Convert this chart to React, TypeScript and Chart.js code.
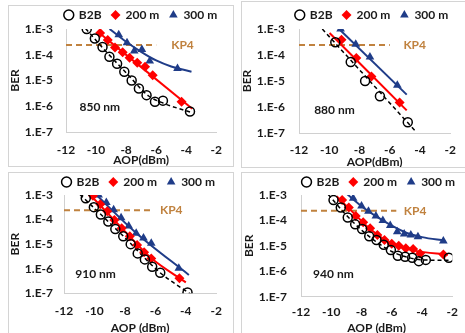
import React, { useEffect, useRef } from 'react';
import { Chart, registerables } from 'chart.js';

Chart.register(...registerables);

// ---------- shared axis values ----------
const yTickValues = [1e-7, 1e-6, 1e-5, 1e-4, 1e-3];
const yTickLabels = ['1.E-7', '1.E-6', '1.E-5', '1.E-4', '1.E-3'];
const xMin = -12;
const xMax = -2;
const xStep = 2;
const seriesLabels = ['B2B', '200 m', '300 m'];
const kp4Ber = 2.4e-4;

// ---------- 850 nm ----------
const aop850B2B = [-10.62, -10.08, -9.57, -9.11, -8.6, -8.12, -7.63, -7.15, -6.64, -6.08, -5.55, -3.75];
const ber850B2B = [1e-3, 4.3e-4, 2.0e-4, 8.4e-5, 4.5e-5, 2.2e-5, 1.0e-5, 4.9e-6, 2.7e-6, 1.5e-6, 1.65e-6, 6.3e-7];
const aop850M200 = [-9.73, -9.22, -8.74, -8.23, -7.77, -7.26, -6.74, -6.23, -4.31];
const ber850M200 = [7e-4, 3.7e-4, 1.9e-4, 1.26e-4, 7.6e-5, 4.9e-5, 3.4e-5, 1.6e-5, 1.5e-6];
const aop850M300 = [-8.49, -7.94, -7.46, -6.95, -6.43, -4.58];
const ber850M300 = [6e-4, 2.9e-4, 1.4e-4, 1.6e-4, 5.7e-5, 2.9e-5];
const fitAop850B2B = [-10.7, -9.5, -8, -6.5, -5.5, -3.6];
const fitBer850B2B = [1.05e-3, 1.7e-4, 2e-5, 2.5e-6, 1.3e-6, 5.6e-7];
const fitAop850M200 = [-9.9, -3.6];
const fitBer850M200 = [8e-4, 8e-7];
const fitAop850M300 = [-9.1, -8, -7, -6, -5, -3.65];
const fitBer850M300 = [1e-3, 3.2e-4, 1.3e-4, 6e-5, 3.5e-5, 2.2e-5];

// ---------- 880 nm ----------
const aop880B2B = [-9.6, -8.58, -7.63, -6.65, -4.81];
const ber880B2B = [3.1e-4, 5.4e-5, 1.0e-5, 2.6e-6, 2.6e-7];
const aop880M200 = [-9.19, -8.21, -7.21, -5.35];
const ber880M200 = [3.9e-4, 7.6e-5, 1.5e-5, 1.5e-6];
const aop880M300 = [-9.25, -8.25, -7.31, -5.5];
const ber880M300 = [1e-3, 2.6e-4, 8.4e-5, 6.8e-6];
const fitAop880B2B = [-10.46, -4.35];
const fitBer880B2B = [1e-3, 1.26e-7];
const fitAop880M200 = [-9.98, -4.88];
const fitBer880M200 = [7e-4, 7.4e-7];
const fitAop880M300 = [-9.35, -4.88];
const fitBer880M300 = [1e-3, 3e-6];

// ---------- 910 nm ----------
const aop910B2B = [-10.57, -10.04, -9.58, -9.09, -8.63, -8.11, -7.62, -7.16, -6.69, -6.21, -5.68, -3.89];
const ber910B2B = [7.3e-4, 3.2e-4, 1.6e-4, 8.3e-5, 4.1e-5, 2.1e-5, 1.0e-5, 4.2e-6, 2.4e-6, 1.2e-6, 6.9e-7, 1.07e-7];
const aop910M200 = [-10.1, -9.62, -9.16, -8.69, -8.21, -7.68, -7.2, -6.74, -6.27, -4.42];
const ber910M200 = [9.3e-4, 4.2e-4, 2.2e-4, 9.6e-5, 4.4e-5, 2.1e-5, 9.3e-6, 4.7e-6, 2.6e-6, 4.1e-7];
const aop910M300 = [-9.73, -9.22, -8.74, -8.25, -7.75, -7.26, -6.78, -6.27, -4.46];
const ber910M300 = [1e-3, 4.9e-4, 2.5e-4, 1.2e-4, 5.5e-5, 2.8e-5, 1.8e-5, 1.1e-5, 1.05e-6];
const fitAop910B2B = [-10.95, -8.1, -5.7, -3.6];
const fitBer910B2B = [1.05e-3, 2.1e-5, 7e-7, 8.5e-8];
const fitAop910M200 = [-10.3, -8.2, -6.3, -4.0];
const fitBer910M200 = [1.05e-3, 4.5e-5, 2.8e-6, 2.8e-7];
const fitAop910M300 = [-9.9, -7.3, -3.8];
const fitBer910M300 = [1.05e-3, 3e-5, 5.6e-7];

// ---------- 940 nm ----------
const aop940B2B = [-9.85, -9.37, -8.91, -8.42, -7.96, -7.49, -7.01, -6.53, -6.06, -5.6, -5.12, -4.65, -4.21, -3.75, -2.23];
const ber940B2B = [6.3e-4, 3.2e-4, 1.3e-4, 7e-5, 4.6e-5, 2.4e-5, 1.7e-5, 1.1e-5, 6.9e-6, 4.1e-6, 3.7e-6, 3.4e-6, 2.5e-6, 2.8e-6, 3.4e-6];
const aop940M200 = [-9.28, -8.84, -8.38, -7.89, -7.43, -6.95, -6.48, -6.0, -5.54, -5.07, -4.59, -4.13, -2.59];
const ber940M200 = [6.3e-4, 3.2e-4, 1.5e-4, 8.4e-5, 4.9e-5, 2.7e-5, 1.7e-5, 1.2e-5, 1e-5, 8e-6, 7.5e-6, 5e-6, 4.6e-6];
const aop940M300 = [-8.55, -8.0, -7.54, -7.05, -6.59, -6.1, -5.64, -5.18, -4.74, -4.27, -2.59];
const ber940M300 = [7.4e-4, 3.7e-4, 2.3e-4, 1.5e-4, 1.0e-4, 6.3e-5, 3.6e-5, 2.9e-5, 2.7e-5, 2.3e-5, 1.55e-5];
const fitAop940B2B = [-10.2, -9, -8, -7, -6, -5, -4, -2.1];
const fitBer940B2B = [1.05e-3, 1.6e-4, 4.2e-5, 1.4e-5, 6e-6, 3.6e-6, 2.8e-6, 2.7e-6];
const fitAop940M200 = [-9.65, -8.5, -7.5, -6.5, -5.5, -4.5, -2.3];
const fitBer940M200 = [9e-4, 1.9e-4, 5e-5, 1.8e-5, 9.5e-6, 6.5e-6, 4.5e-6];
const fitAop940M300 = [-9.0, -8, -7, -6, -5, -4, -2.5];
const fitBer940M300 = [1.15e-3, 3.6e-4, 1.4e-4, 6.2e-5, 3.2e-5, 2.2e-5, 1.6e-5];

// ---------- styles ----------
const FONT = "Lato, 'Open Sans', sans-serif";
const TEXT = '#1a1a1a';
const RED = '#ff0000';
const BLUE = '#1f3c88';
const KP4C = '#c0823f';
const AXIS = '#d0d0d0';
const BORDER = '#d4d4d4';

const zip = (xs: number[], ys: number[]) => xs.map((x, i) => ({ x, y: ys[i] }));

type PanelCfg = {
  box: { left: number; top: number; w: number; h: number };
  yAxisW: number; padRight: number; legendH: number; legendDx: number; legendDy: number;
  xAxisH: number; xTickPad: number; xTitlePadB: number; yTickPad: number; yTitlePadT: number;
  xTitle: string; wl: string; wlPos: [number, number]; kp4Span: [number, number]; kp4TextX: number;
  series: number[][]; fits: number[][];
};

const panels: PanelCfg[] = [
  {
    box: { left: 8, top: 5, w: 226, h: 162 },
    yAxisW: 57, padRight: 8, legendH: 23, legendDx: 24, legendDy: -7,
    xAxisH: 34, xTickPad: 11, xTitlePadB: -1.2, yTickPad: 13, yTitlePadT: -1.2,
    xTitle: 'AOP(dBm)', wl: '850 nm', wlPos: [-11.1, 9e-7], kp4Span: [-12, -6], kp4TextX: -5.0,
    series: [aop850B2B, ber850B2B, aop850M200, ber850M200, aop850M300, ber850M300],
    fits: [fitAop850B2B, fitBer850B2B, fitAop850M200, fitBer850M200, fitAop850M300, fitBer850M300],
  },
  {
    box: { left: 241, top: 1, w: 226, h: 167 },
    yAxisW: 57, padRight: 8, legendH: 27, legendDx: 22, legendDy: -3,
    xAxisH: 34, xTickPad: 10, xTitlePadB: -2.2, yTickPad: 14, yTitlePadT: -2.2,
    xTitle: 'AOP(dBm)', wl: '880 nm', wlPos: [-11.0, 7.9e-7], kp4Span: [-12, -6], kp4TextX: -5.1,
    series: [aop880B2B, ber880B2B, aop880M200, ber880M200, aop880M300, ber880M300],
    fits: [fitAop880B2B, fitBer880B2B, fitAop880M200, fitBer880M200, fitAop880M300, fitBer880M300],
  },
  {
    box: { left: 8, top: 172, w: 226, h: 165 },
    yAxisW: 55, padRight: 10.5, legendH: 22, legendDx: 23, legendDy: -7,
    xAxisH: 42.7, xTickPad: 11, xTitlePadB: 0.5, yTickPad: 11, yTitlePadT: -1.2,
    xTitle: 'AOP (dBm)', wl: '910 nm', wlPos: [-11.26, 6e-7], kp4Span: [-12, -6.1], kp4TextX: -5.7,
    series: [aop910B2B, ber910B2B, aop910M200, ber910M200, aop910M300, ber910M300],
    fits: [fitAop910B2B, fitBer910B2B, fitAop910M200, fitBer910M200, fitAop910M300, fitBer910M300],
  },
  {
    box: { left: 241, top: 172, w: 226, h: 165 },
    yAxisW: 59, padRight: 6.5, legendH: 22, legendDx: 28, legendDy: -7,
    xAxisH: 39.3, xTickPad: 8, xTitlePadB: 0.5, yTickPad: 14, yTitlePadT: -0.5,
    xTitle: 'AOP (dBm)', wl: '940 nm', wlPos: [-11.2, 7.6e-7], kp4Span: [-12, -5.7], kp4TextX: -5.2,
    series: [aop940B2B, ber940B2B, aop940M200, ber940M200, aop940M300, ber940M300],
    fits: [fitAop940B2B, fitBer940B2B, fitAop940M200, fitBer940M200, fitAop940M300, fitBer940M300],
  },
];

const font12 = { family: FONT, size: 12, weight: 'bold' as const };

function Panel({ cfg }: { cfg: PanelCfg }) {
  const ref = useRef<HTMLCanvasElement | null>(null);
  const W = cfg.box.w - 2;
  const H = cfg.box.h - 2;

  useEffect(() => {
    if (!ref.current) return;
    const s = cfg.series;
    const f = cfg.fits;

    const legendShift = {
      id: 'legendShift',
      afterLayout(chart: any) {
        const lg = chart.legend;
        if (!lg) return;
        lg.left += cfg.legendDx;
        lg.right += cfg.legendDx;
        lg.top += cfg.legendDy;
        lg.bottom += cfg.legendDy;
      },
    };
    const panelText = {
      id: 'panelText',
      afterDatasetsDraw(chart: any) {
        const { ctx, scales } = chart;
        const items = [
          { text: 'KP4', x: cfg.kp4TextX, y: kp4Ber, color: KP4C },
          { text: cfg.wl, x: cfg.wlPos[0], y: cfg.wlPos[1], color: TEXT },
        ];
        ctx.save();
        ctx.font = `bold 12px ${FONT}`;
        ctx.textAlign = 'left';
        ctx.textBaseline = 'middle';
        for (const it of items) {
          ctx.fillStyle = it.color;
          ctx.fillText(it.text, scales.x.getPixelForValue(it.x), scales.y.getPixelForValue(it.y));
        }
        ctx.restore();
      },
    };

    const chart = new Chart(ref.current, {
      type: 'scatter',
      data: {
        datasets: [
          {
            label: seriesLabels[0], data: zip(s[0], s[1]), pointStyle: 'circle', pointRadius: 4.5,
            borderColor: '#000', borderWidth: 1.5, backgroundColor: 'rgba(0,0,0,0)',
          },
          {
            label: seriesLabels[1], data: zip(s[2], s[3]), pointStyle: 'rectRot', pointRadius: 5,
            borderColor: RED, borderWidth: 0, backgroundColor: RED,
          },
          {
            label: seriesLabels[2], data: zip(s[4], s[5]), pointStyle: 'triangle', pointRadius: 5,
            borderColor: BLUE, borderWidth: 0, backgroundColor: BLUE,
          },
          {
            label: 'fit B2B', data: zip(f[0], f[1]), showLine: true, pointRadius: 0,
            borderColor: '#000', borderWidth: 1.5, borderDash: [4, 3], cubicInterpolationMode: 'monotone', clip: 0,
          },
          {
            label: 'fit 200 m', data: zip(f[2], f[3]), showLine: true, pointRadius: 0,
            borderColor: RED, borderWidth: 2, cubicInterpolationMode: 'monotone', clip: 0,
          },
          {
            label: 'fit 300 m', data: zip(f[4], f[5]), showLine: true, pointRadius: 0,
            borderColor: BLUE, borderWidth: 2, cubicInterpolationMode: 'monotone', clip: 0,
          },
          {
            label: 'KP4', data: [{ x: cfg.kp4Span[0], y: kp4Ber }, { x: cfg.kp4Span[1], y: kp4Ber }],
            showLine: true, pointRadius: 0, borderColor: KP4C, borderWidth: 2, borderDash: [6, 4], clip: 0,
          },
        ] as any,
      },
      options: {
        animation: false,
        responsive: false,
        maintainAspectRatio: false,
        events: [],
        layout: { padding: { left: 0, right: cfg.padRight, top: 0, bottom: 0 } },
        plugins: {
          legend: {
            position: 'top',
            maxHeight: cfg.legendH,
            labels: {
              usePointStyle: true, boxWidth: 8, boxHeight: 7, padding: 10,
              font: font12, color: TEXT,
              filter: (item: any) => item.datasetIndex < 3,
            },
          },
          tooltip: { enabled: false },
        },
        scales: {
          x: {
            type: 'linear', min: xMin, max: xMax,
            ticks: { stepSize: xStep, padding: cfg.xTickPad, font: font12, color: TEXT },
            grid: { display: false, drawTicks: false },
            border: { display: true, color: AXIS, width: 1 },
            title: { display: true, text: cfg.xTitle, font: font12, color: TEXT, padding: { top: 0, bottom: cfg.xTitlePadB } },
            afterFit: (sc: any) => { sc.height = cfg.xAxisH; },
          },
          y: {
            type: 'logarithmic', min: yTickValues[0], max: yTickValues[yTickValues.length - 1],
            afterBuildTicks: (sc: any) => { sc.ticks = yTickValues.map((v) => ({ value: v })); },
            ticks: {
              callback: (_v: any, i: number) => yTickLabels[i],
              padding: cfg.yTickPad, font: font12, color: TEXT, autoSkip: false,
            },
            grid: { display: false, drawTicks: false },
            border: { display: true, color: AXIS, width: 1 },
            title: { display: true, text: 'BER', font: font12, color: TEXT, padding: { top: cfg.yTitlePadT, bottom: 0 } },
            afterFit: (sc: any) => { sc.width = cfg.yAxisW; },
          },
        },
      } as any,
      plugins: [legendShift, panelText],
    });
    return () => chart.destroy();
  }, [cfg]);

  return (
    <div
      style={{
        position: 'absolute', left: cfg.box.left, top: cfg.box.top, width: W, height: H,
        border: `1px solid ${BORDER}`, overflow: 'hidden', background: '#fff',
      }}
    >
      <canvas ref={ref} width={W} height={H} style={{ display: 'block', width: W, height: H }} />
    </div>
  );
}

export default function App() {
  return (
    <div style={{ position: 'fixed', left: 0, top: 0, width: 465, height: 333, overflow: 'hidden', background: '#fff' }}>
      {panels.map((p, i) => (
        <Panel key={i} cfg={p} />
      ))}
    </div>
  );
}
